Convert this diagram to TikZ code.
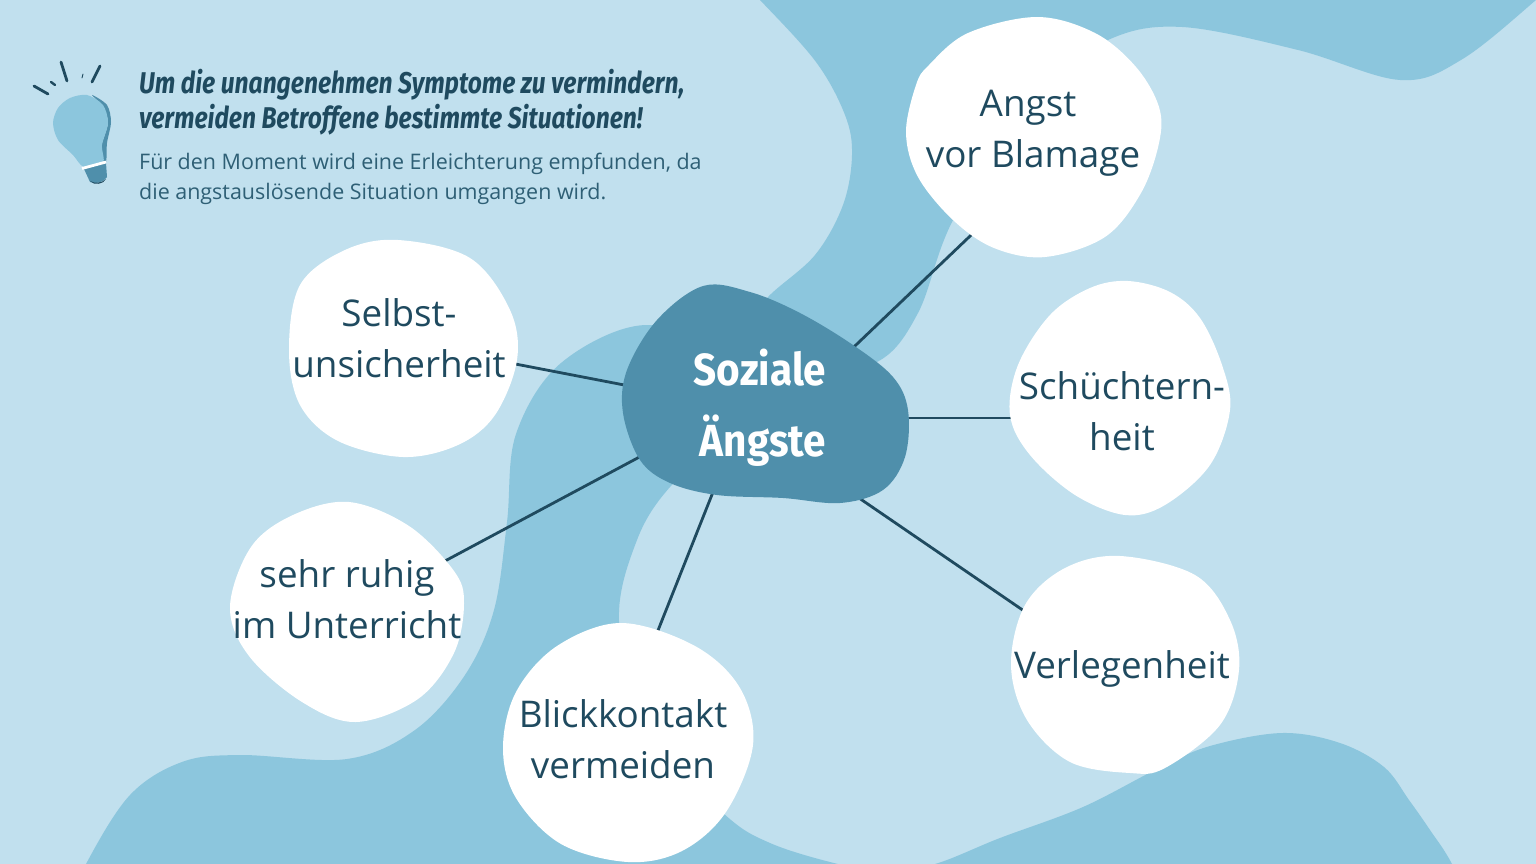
\documentclass[tikz,border=0pt]{standalone}
\usepackage{fontspec}
\usetikzlibrary{calc}
\setmainfont{Open Sans}
\newfontfamily\headf[FakeStretch=0.82]{Fira Sans}
\newfontfamily\hubf[FakeStretch=0.9]{Fira Sans}
\definecolor{lightbg}{HTML}{C1E0EE}
\definecolor{midbg}{HTML}{8CC6DD}
\definecolor{hubc}{HTML}{4F8FAB}
\definecolor{ink}{HTML}{1F4A5F}
\definecolor{subink}{HTML}{2E5F75}
\pgfdeclarelayer{back}
\pgfsetlayers{back,main}
\tikzset{
  blobfill/.style={fill=white,draw=none},
  label/.style={text=ink,align=center,inner sep=0pt,font=\fontsize{36.8}{51}\selectfont},
  conn/.style={draw=ink,line width=2.8pt},
  ray/.style={draw=ink,line cap=round},
}
\begin{document}
\begin{tikzpicture}[x=1pt,y=-1pt]
\useasboundingbox (0,0) rectangle (1536,864);
% text nodes
\node[label] (angst) at (1033,133) {Angst\hspace*{10pt}\\vor Blamage};
\node[label] (schuecht) at (1122,411) {Schüchtern-\\heit};
\node[label] (verleg) at (1122,669) {Verlegenheit};
\node[label] (blick) at (623,739) {Blickkontakt\\vermeiden};
\node[label] (ruhig) at (347,599) {sehr ruhig\\im Unterricht};
\node[label] (selbst) at (399,338) {Selbst-\\unsicherheit};
\node[text=white,align=center,inner sep=0pt,font=\fontsize{45}{71}\selectfont\hubf\bfseries] (hub) at (760,408) {Soziale\\\hspace*{6pt}Ängste};
\node[text=ink,anchor=north west,align=left,inner sep=0pt,font=\fontsize{30}{35}\selectfont\headf\bfseries\itshape] (head) at (139,69) {Um die unangenehmen Symptome zu vermindern,\\vermeiden Betroffene bestimmte Situationen!};
\node[text=subink,anchor=north west,align=left,inner sep=0pt,font=\fontsize{21.45}{30}\selectfont] (sub) at (139,153) {Für den Moment wird eine Erleichterung empfunden, da\\die angstauslösende Situation umgangen wird.};
\begin{pgfonlayer}{back}
\fill[lightbg] (0,0) rectangle (1536,864);
\begin{scope}
\clip (0,0) rectangle (1536,864);
\fill[midbg] plot[smooth cycle,tension=0.58] coordinates {(715,-45)(760,0)(816,62)(845,115)(852,155)(843,205)(815,255)(768,297)(745,330)(800,375)(877,362)(918,313)(953,220)(1030,95)(1108,40)(1182,27)(1298,50)(1400,80)(1461,60)(1536,0)(1590,-50)(1150,-90)};
\fill[midbg] plot[smooth cycle,tension=0.58] coordinates {(60,925)(86,864)(130,795)(182,762)(240,755)(347,759)(415,730)(465,675)(494,610)(507,522)(516,434)(561,363)(646,325)(730,360)(725,440)(670,487)(637,540)(619,621)(645,730)(723,813)(770,843)(838,864)(885,871)(935,864)(1000,838)(1083,807)(1159,768)(1210,746)(1282,733)(1340,743)(1384,767)(1409,800)(1430,830)(1452,864)(1480,925)(770,985)};
\end{scope}
% connectors
\draw[conn] ($(hub)+(75,-43)$) -- ($(angst)+(-43,84)$);
\draw[conn] ($(hub)+(-115,-19)$) -- ($(selbst)+(106,24)$);
\draw[conn] ($(hub)+(-100,38)$) -- ($(ruhig)+(83,-30)$);
\draw[conn] ($(hub)+(-41,69)$) -- ($(blick)+(28,-91)$);
\draw[conn] ($(hub)+(80,77)$) -- ($(verleg)+(-76,-43)$);
\draw[conn] ($(hub)+(130,10)$) -- ($(schuecht)+(-92,7)$);
% blobs
\fill[hubc] plot[smooth cycle,tension=0.58] coordinates {(703,286)(750,292)(800,313)(853,345)(893,377)(908,410)(905,457)(883,490)(840,503)(783,498)(717,495)(670,483)(640,460)(623,413)(627,370)(657,320)};
\fill[blobfill] plot[smooth cycle,tension=0.58] coordinates {(1037,17)(1095,33)(1136,67)(1159,107)(1159,143)(1141,193)(1105,237)(1045,257)(994,248)(953,220)(918,177)(906,133)(916,85)(929,65)(968,33)};
\fill[blobfill] plot[smooth cycle,tension=0.58] coordinates {(1128,281)(1170,292)(1200,318)(1222,365)(1230,410)(1210,465)(1165,505)(1125,515)(1075,495)(1030,455)(1010,415)(1018,365)(1050,315)(1090,288)};
\fill[blobfill] plot[smooth cycle,tension=0.58] coordinates {(1120,556)(1195,575)(1230,620)(1239,670)(1220,725)(1165,768)(1130,773)(1070,762)(1027,720)(1011,665)(1025,605)(1065,568)};
\fill[blobfill] plot[smooth cycle,tension=0.58] coordinates {(621,623)(695,646)(740,688)(753,745)(726,812)(682,851)(628,862)(561,844)(516,798)(503,748)(516,692)(557,646)};
\fill[blobfill] plot[smooth cycle,tension=0.58] coordinates {(349,502)(409,526)(454,571)(464,603)(454,653)(418,699)(356,722)(302,702)(249,656)(230,607)(251,547)(293,515)};
\fill[blobfill] plot[smooth cycle,tension=0.58] coordinates {(398,240)(470,258)(510,310)(517,360)(495,415)(458,445)(403,457)(338,441)(300,405)(289,350)(300,285)(345,250)};
% bulb
\fill[hubc] plot[smooth cycle,tension=0.5] coordinates {(92,95)(107,105)(111,122)(107,143)(106,162)(100,164)(101,147)(108,123)(103,107)};
\fill[midbg] plot[smooth cycle,tension=0.5] coordinates {(87,95)(103,105)(108,123)(102,145)(103,163)(84,167)(73,155)(58,140)(53,123)(58,108)(70,98)};
\fill[hubc] (84,169) -- (106,163) -- (107,177) .. controls (104,182) and (95,185) .. (90,182) -- cycle;
\fill[ink] (90,181) .. controls (95,184) and (102,183) .. (106,179) .. controls (104,184) and (94,186) .. (90,181) -- cycle;
\draw[white,line width=2.8pt] (82,168.5) -- (106,162);
\draw[ray,line width=2.8pt] (34,86) -- (48,94);
\draw[ray,line width=2.4pt] (51,82) -- (55,85);
\draw[ray,line width=2.8pt] (61,62) -- (67,81);
\draw[ray,line width=0.9pt] (83,74) -- (82,78);
\draw[ray,line width=2.8pt] (100,66) -- (92,82);
\end{pgfonlayer}
\end{tikzpicture}
\end{document}
